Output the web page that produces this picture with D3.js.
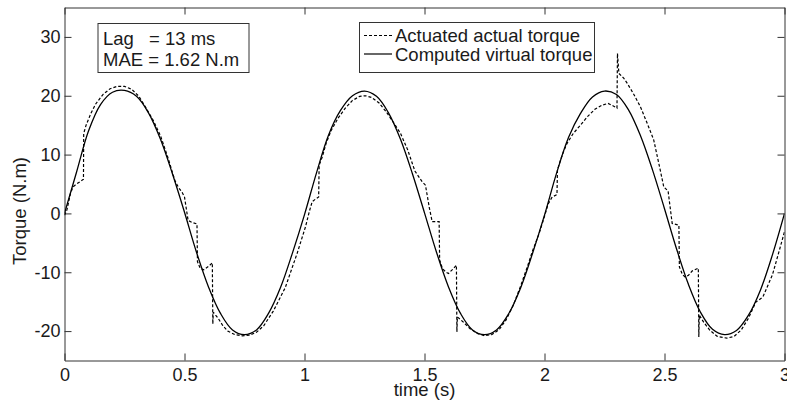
<!DOCTYPE html>
<html>
<head>
<meta charset="utf-8">
<script src="https://cdn.jsdelivr.net/npm/d3@7"></script>
<style>
  body { margin: 0; background: #fff; }
  svg { font-family: "Liberation Sans", Arial, sans-serif; }
  .eixo text { font-size: 18px; fill: #1a1a1a; }
  .eixo path, .eixo line { stroke: #333; }
  .texto { font-size: 18.5px; fill: #1a1a1a; }
</style>
</head>
<body>
<svg id="grafico"></svg>
<script>
// torque virtual (linha continua)
const tempoVirtual = [0, 0.05, 0.1, 0.15, 0.2, 0.25, 0.3, 0.35, 0.4, 0.45, 0.5,
  0.55, 0.6, 0.65, 0.7, 0.75, 0.8, 0.85, 0.9, 0.95, 1.0,
  1.05, 1.1, 1.15, 1.2, 1.25, 1.3, 1.35, 1.4, 1.45, 1.5,
  1.55, 1.6, 1.65, 1.7, 1.75, 1.8, 1.85, 1.9, 1.95, 2.0,
  2.05, 2.1, 2.15, 2.2, 2.25, 2.3, 2.35, 2.4, 2.45, 2.5,
  2.55, 2.6, 2.65, 2.7, 2.75, 2.8, 2.85, 2.9, 2.95, 3.0];
const torqueVirtual = [0, 7.0, 14.0, 18.5, 20.6, 20.9, 19.9, 17.1, 12.6, 6.7, 0.2,
  -6.6, -12.5, -17.0, -19.8, -20.6, -19.8, -17.0, -12.6, -6.7, -0.2,
  6.9, 13.3, 17.5, 20.0, 20.8, 19.9, 17.1, 12.6, 6.7, 0.1,
  -6.6, -12.5, -17.0, -19.8, -20.6, -19.8, -17.1, -12.7, -6.8, -0.3,
  6.8, 12.9, 17.0, 19.8, 20.8, 20.2, 17.6, 13.2, 7.4, 0.8,
  -6.0, -12.1, -16.8, -19.7, -20.6, -19.9, -17.3, -13.0, -7.0, 0.0];

// torque real atuado (linha tracejada)
const tempoReal = [0, 0.01, 0.025, 0.035, 0.05, 0.065, 0.079, 0.08, 0.09, 0.11, 0.13, 0.16, 0.19, 0.22, 0.25,
  0.28, 0.31, 0.34, 0.37, 0.4, 0.43, 0.46, 0.475, 0.49, 0.5, 0.515, 0.53, 0.552, 0.554, 0.565, 0.58, 0.6,
  0.616, 0.618, 0.62, 0.64, 0.66, 0.68, 0.71, 0.74, 0.77, 0.8, 0.83, 0.87, 0.92, 0.97, 1.004, 1.02,
  1.032, 1.045, 1.059, 1.061, 1.074, 1.09, 1.11, 1.14, 1.17, 1.2, 1.23, 1.255, 1.28, 1.31, 1.34, 1.37,
  1.4, 1.43, 1.46, 1.49, 1.504, 1.52, 1.532, 1.561, 1.563, 1.575, 1.59, 1.6, 1.615, 1.633, 1.635, 1.637,
  1.66, 1.69, 1.72, 1.75, 1.78, 1.81, 1.84, 1.87, 1.9, 1.93, 1.95, 1.976, 2.0, 2.015, 2.032, 2.052, 2.054,
  2.067, 2.08, 2.094, 2.12, 2.15, 2.18, 2.21, 2.24, 2.265, 2.285, 2.302, 2.304, 2.31, 2.33, 2.345, 2.37,
  2.4, 2.43, 2.455, 2.48, 2.497, 2.515, 2.532, 2.56, 2.562, 2.575, 2.586, 2.6, 2.615, 2.641, 2.643, 2.645,
  2.665, 2.69, 2.72, 2.76, 2.79, 2.82, 2.85, 2.88, 2.91, 2.95, 2.975, 3.0];
const torqueReal = [-0.3, 0.6, 3.4, 4.5, 5.0, 5.4, 5.8, 13.6, 15.0, 17.0, 18.6, 20.2, 21.2, 21.6, 21.6,
  21.1, 19.9, 17.9, 15.8, 13.2, 9.6, 5.6, 4.4, 3.6, 2.8, -1.2, -1.5, -1.8, -8.2, -9.3, -9.6, -9.0,
  -8.4, -18.8, -16.8, -17.8, -19.1, -20.0, -20.6, -20.8, -20.7, -20.2, -19.1, -16.6, -12.6, -6.7, -2.3, 0.3,
  2.0, 2.4, 2.8, 8.2, 9.6, 11.9, 14.0, 16.2, 17.9, 19.2, 19.9, 20.0, 19.7, 18.8, 17.3, 15.5,
  13.6, 10.8, 7.2, 5.4, 4.8, 1.0, -1.4, -1.4, -7.9, -9.4, -10.0, -10.2, -9.6, -8.8, -20.1, -17.6,
  -18.4, -19.6, -20.4, -20.8, -20.6, -19.8, -18.1, -15.6, -12.4, -8.9, -6.4, -3.6, -0.5, 1.6, 2.8, 3.2, 7.4,
  9.1, 10.6, 11.9, 13.6, 15.0, 16.5, 17.7, 18.4, 18.7, 18.3, 17.9, 27.2, 23.8, 23.0, 22.1, 20.4,
  18.1, 15.1, 12.5, 7.8, 4.5, 3.8, -1.7, -2.0, -9.1, -10.4, -10.8, -10.5, -9.8, -9.3, -21.0, -17.3,
  -18.6, -19.9, -20.9, -21.2, -20.9, -19.8, -17.8, -15.1, -14.2, -10.4, -6.8, -3.1];

const ticksX = [0, 0.5, 1, 1.5, 2, 2.5, 3];
const ticksY = [-20, -10, 0, 10, 20, 30];
const rotulosLegenda = ['Actuated actual torque', 'Computed virtual torque'];
const tracosLegenda = ['3,2', null];
const linhasCaixa = ['Lag', '= 13 ms', 'MAE = 1.62 N.m'];

function criaGrafico() {
  const largura = 787, altura = 405;
  const margem = { esquerda: 64.5, direita: 2.5, superior: 7.5, inferior: 44.5 };
  const svg = d3.select('#grafico').attr('width', largura).attr('height', altura);

  const larguraPlotagem = largura - margem.esquerda - margem.direita;
  const alturaPlotagem = altura - margem.superior - margem.inferior;

  const plotagem = svg.append('g').attr('transform', `translate(${margem.esquerda}, ${margem.superior})`);

  const x = d3.scaleLinear().domain([0, 3]).range([0, larguraPlotagem]);
  const y = d3.scaleLinear().domain([-25, 35]).range([alturaPlotagem, 0]);

  // eixos com marcas para dentro, nos quatro lados
  plotagem.append('g').attr('class', 'eixo')
    .attr('transform', `translate(0, ${alturaPlotagem})`)
    .call(d3.axisBottom(x).tickValues(ticksX).tickFormat(d => d).tickSizeInner(-7).tickSizeOuter(0).tickPadding(8));
  plotagem.append('g').attr('class', 'eixo')
    .call(d3.axisLeft(y).tickValues(ticksY).tickFormat(d => d).tickSizeInner(-7).tickSizeOuter(0).tickPadding(4));
  plotagem.append('g').attr('class', 'eixo')
    .call(d3.axisTop(x).tickValues(ticksX).tickFormat('').tickSizeInner(-7).tickSizeOuter(0));
  plotagem.append('g').attr('class', 'eixo')
    .attr('transform', `translate(${larguraPlotagem}, 0)`)
    .call(d3.axisRight(y).tickValues(ticksY).tickFormat('').tickSizeInner(-7).tickSizeOuter(0));

  svg.append('clipPath').attr('id', 'recorte')
    .append('rect').attr('width', larguraPlotagem).attr('height', alturaPlotagem);

  const dadosVirtual = tempoVirtual.map((t, i) => [t, torqueVirtual[i]]);
  const dadosReal = tempoReal.map((t, i) => [t, torqueReal[i]]);

  const linhaSuave = d3.line().x(d => x(d[0])).y(d => y(d[1])).curve(d3.curveCatmullRom);
  const linhaReta = d3.line().x(d => x(d[0])).y(d => y(d[1]));

  const curvas = plotagem.append('g').attr('clip-path', 'url(#recorte)');
  curvas.append('path').datum(dadosVirtual)
    .attr('d', linhaSuave).attr('fill', 'none').attr('stroke', '#000').attr('stroke-width', 1.3);
  curvas.append('path').datum(dadosReal)
    .attr('d', linhaReta).attr('fill', 'none').attr('stroke', '#000').attr('stroke-width', 1.2)
    .attr('stroke-dasharray', '3,2');

  // caixa Lag / MAE
  svg.append('rect').attr('x', 98).attr('y', 23.5).attr('width', 151).attr('height', 49)
    .attr('fill', '#fff').attr('stroke', '#333');
  svg.append('text').attr('class', 'texto').attr('x', 103).attr('y', 45).text(linhasCaixa[0]);
  svg.append('text').attr('class', 'texto').attr('x', 149).attr('y', 45).text(linhasCaixa[1]);
  svg.append('text').attr('class', 'texto').attr('x', 103).attr('y', 66).text(linhasCaixa[2]);

  // legenda
  svg.append('rect').attr('x', 359.5).attr('y', 22.5).attr('width', 235).attr('height', 50)
    .attr('fill', '#fff').attr('stroke', '#333');
  const legenda = svg.selectAll('.legenda').data(rotulosLegenda).enter()
    .append('g').classed('legenda', true)
    .attr('transform', (d, i) => `translate(364, ${35.5 + i * 18.5})`);
  legenda.append('line').attr('x1', 0).attr('x2', 28).attr('y1', 0).attr('y2', 0)
    .attr('stroke', '#000').attr('stroke-width', 1.2)
    .attr('stroke-dasharray', (d, i) => tracosLegenda[i]);
  legenda.append('text').attr('class', 'texto').attr('x', 31).attr('y', 6.5).text(d => d);

  // titulos dos eixos
  svg.append('text').attr('class', 'texto')
    .style('text-anchor', 'middle')
    .attr('transform', `translate(${margem.esquerda + larguraPlotagem / 2}, 396)`)
    .text('time (s)');
  svg.append('text').attr('class', 'texto')
    .style('text-anchor', 'middle')
    .attr('transform', 'translate(26, 211) rotate(-90)')
    .text('Torque (N.m)');
}

criaGrafico();
</script>
</body>
</html>
